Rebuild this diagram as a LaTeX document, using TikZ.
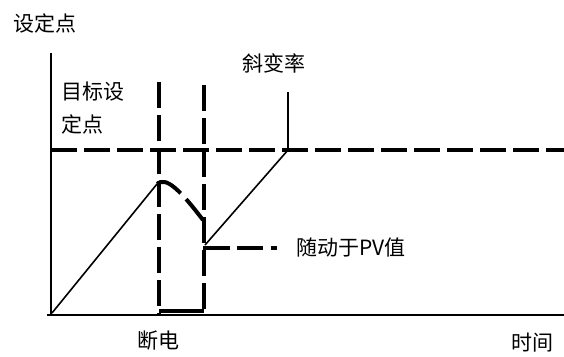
\documentclass[tikz,border=0pt]{standalone}
\usepackage{fontspec}
\setmainfont{Noto Sans CJK SC}
\begin{document}
\begin{tikzpicture}[x=1pt,y=-1pt,
  lbl/.style={inner sep=0pt,font=\fontsize{21}{25}\selectfont},
  axis/.style={line width=2.2pt},
  thickdash/.style={line width=4pt,dash pattern=on 26pt off 7pt},
  ramp/.style={line width=1.6pt},
  pvdash/.style={line width=4pt,dash pattern=on 27pt off 7pt on 26pt off 8pt on 6pt off 20pt}]
\useasboundingbox (0,0) rectangle (564,356);
% coordinates
\coordinate (ytop) at (51,53);
\coordinate (origin) at (51,315);
\coordinate (xleft) at (47,315);
\coordinate (xright) at (564,315);
\coordinate (spL) at (51,150);
\coordinate (spR) at (564,150);
\coordinate (v1t) at (159,82);
\coordinate (v1b) at (159,314);
\coordinate (v2t) at (204,85);
\coordinate (v2b) at (204,314);
\coordinate (barL) at (159,311);
\coordinate (barR) at (204,311);
\coordinate (r1s) at (52,313);
\coordinate (peak) at (157,184);
\coordinate (drop) at (203,220);
\coordinate (r2s) at (205,245);
\coordinate (r2e) at (288,150);
\coordinate (slt) at (288,92);
\coordinate (pvs) at (203,248);
\coordinate (pve) at (277,248);
% axes
\draw[axis] (ytop) -- (origin);
\draw[axis] (xleft) -- (xright);
% setpoint line
\draw[thickdash] (spL) -- (spR);
% power-off verticals
\draw[thickdash] (v1t) -- (v1b);
\draw[thickdash] (v2t) -- (v2b);
\draw[line width=4.5pt] (barL) -- (barR);
% ramps
\draw[ramp] (r1s) -- (peak);
\draw[ramp] (r2s) -- (r2e);
% PV droop during outage
\draw[line width=4pt,dash pattern=on 28pt off 8pt on 40pt off 4pt] (peak) .. controls (166,176) and (180,190) .. (drop);
% slope marker
\draw[line width=2.2pt] (slt) -- (r2e);
% PV tracking line
\draw[pvdash] (pvs) -- (pve);
% labels
\node[lbl] (ylab) at (45,23) {设定点};
\node[lbl,anchor=west] (tsp1) at (61,92) {目标设};
\node[lbl,anchor=west] (tsp2) at (61,124) {定点};
\node[lbl] (slope) at (274,63) {斜变率};
\node[lbl,anchor=west] (pvlab) at (296,248) {随动于PV值};
\node[lbl] (off) at (158,341) {断电};
\node[lbl] (time) at (532,343) {时间};
\end{tikzpicture}
\end{document}
